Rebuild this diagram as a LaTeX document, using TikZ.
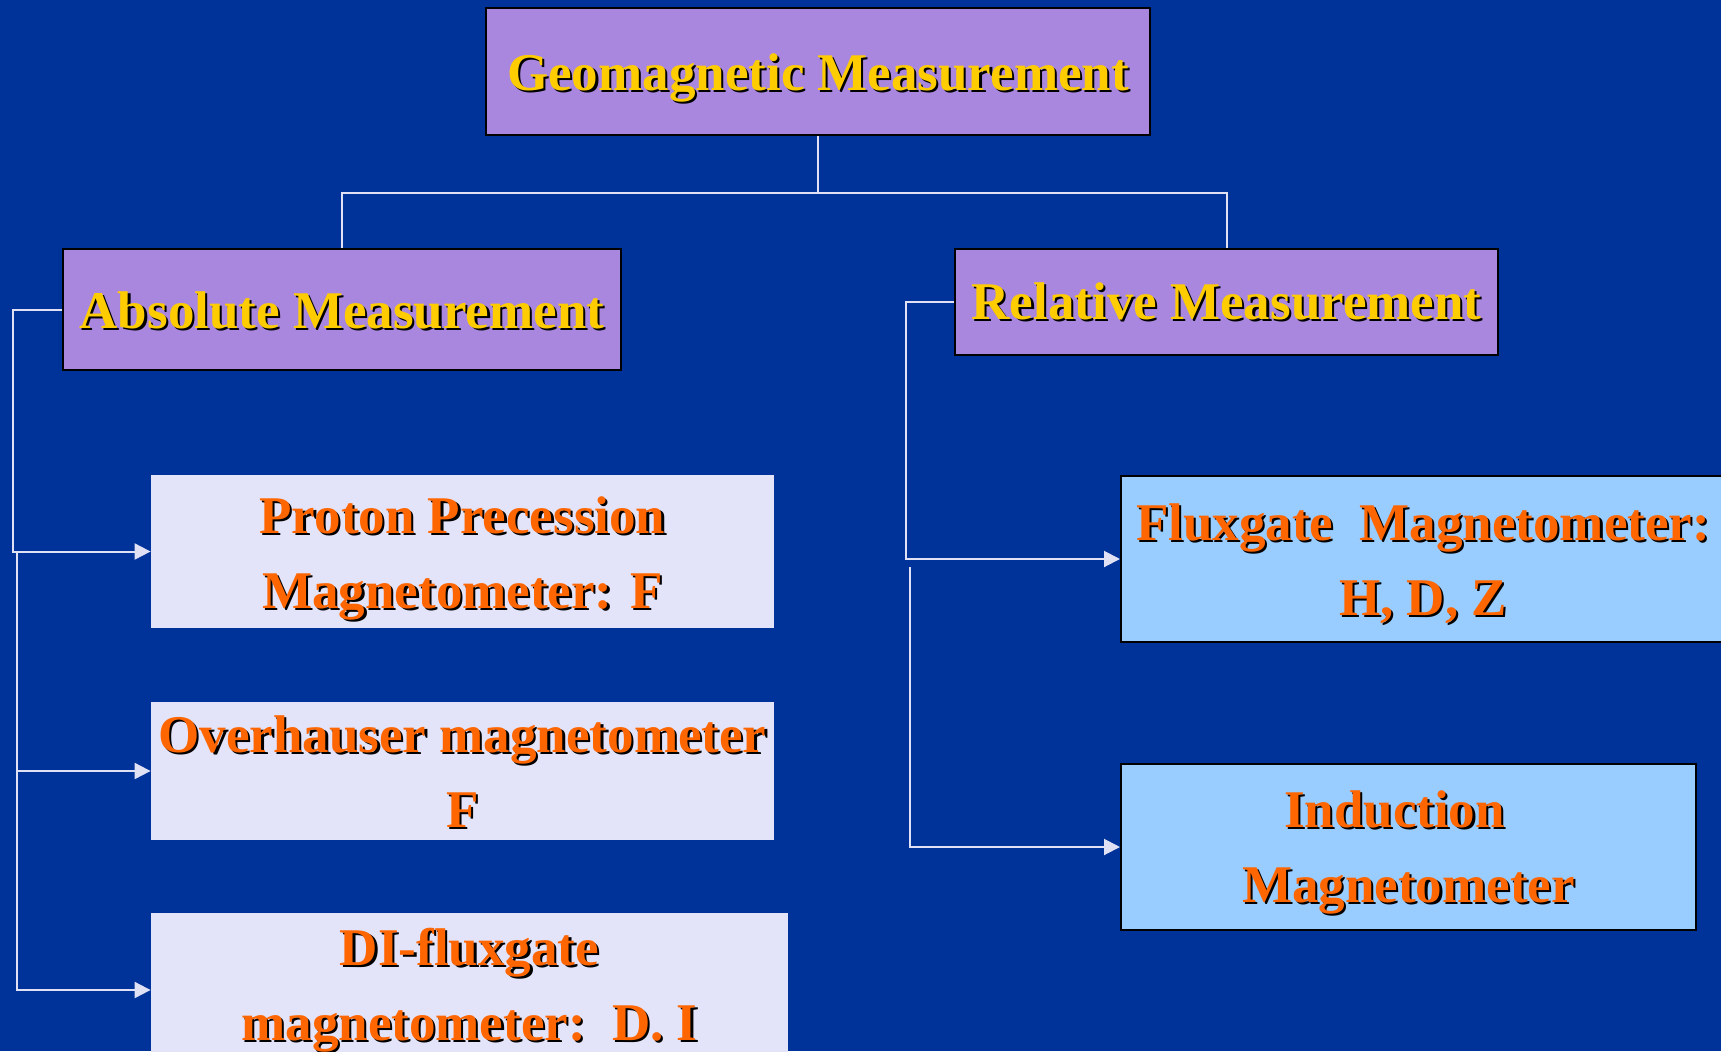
\documentclass[tikz,border=0pt]{standalone}
\usepackage{fontspec}
\setmainfont{Liberation Serif}
\usetikzlibrary{arrows.meta}
\definecolor{bgblue}{HTML}{003399}
\definecolor{purp}{RGB}{169,135,223}
\definecolor{lav}{RGB}{227,227,250}
\definecolor{sky}{HTML}{99CCFF}
\definecolor{gold}{HTML}{FFCC00}
\definecolor{orng}{HTML}{FF6600}
\definecolor{wire}{RGB}{225,225,245}
\newcommand\sh[2][9.25pt]{\raisebox{-#1}[0pt][0pt]{\rlap{\kern1.1pt\raisebox{-1.1pt}{\textcolor{black}{#2}}}#2}}
\begin{document}
\begin{tikzpicture}[x=0.5pt,y=-0.5pt,
 txt/.style={font=\fontsize{26.5pt}{37.5pt}\selectfont\bfseries, align=center, inner sep=0pt},
 headbox/.style={txt, rectangle, fill=purp, draw=black, line width=1pt, text=gold},
 absbox/.style={txt, rectangle, fill=lav, draw=none, text=orng},
 relbox/.style={txt, rectangle, fill=sky, draw=black, line width=1pt, text=orng},
 conn/.style={draw=wire, line width=1pt},
 arr/.style={conn, -{Triangle[length=8pt,width=8pt]}}]
\useasboundingbox (0,0) rectangle (1721,1051);
\fill[bgblue] (0,0) rectangle (1721,1051);
\begin{scope}
\clip (0,0) rectangle (1721,1051);
\node[headbox, minimum width=332pt, minimum height=63.5pt] (top) at (818,71.5) {\sh{Geomagnetic Measurement}};
\node[headbox, minimum width=279pt, minimum height=60.5pt] (abs) at (342,309.5) {\sh{Absolute Measurement}};
\node[headbox, minimum width=271.5pt, minimum height=53pt] (rel) at (1226.5,302) {\sh[8.5pt]{Relative Measurement}};
\node[absbox, minimum width=311.5pt, minimum height=76.5pt] (proton) at (462.5,551.5) {\sh[9.5pt]{Proton Precession}\\ \sh[9.5pt]{Magnetometer: F}};
\node[absbox, minimum width=311.5pt, minimum height=69pt] (over) at (462.5,771) {\sh[9.5pt]{Overhauser magnetometer}\\ \sh[9.5pt]{F}};
\node[absbox, minimum width=318.5pt, minimum height=77pt] (di) at (469.5,990) {\sh[6.5pt]{DI-fluxgate}\\ \sh[6.5pt]{magnetometer:\ \ D. I}};
\node[relbox, minimum width=302pt, minimum height=83pt] (flux) at (1423,559) {\sh{Fluxgate\ \ Magnetometer:}\\ \sh{H, D, Z}};
\node[relbox, minimum width=287.5pt, minimum height=83pt] (ind) at (1408.5,847) {\sh[9pt]{Induction}\hspace*{14pt}\\ \sh[9pt]{Magnetometer}};
\end{scope}
\draw[conn] (top.south) -- ++(0,57) -| (abs.north);
\draw[conn] (top.south) -- ++(0,57) -| (rel.north);
\draw[arr] (abs.west) -- ++(-49,0) |- (proton.west);
\coordinate (aj) at (17,551);
\draw[arr] (aj) |- (over.west);
\draw[arr] (aj) |- (di.west);
\draw[arr] (rel.west) -- ++(-48,0) |- (flux.west);
\coordinate (rj) at (910,567);
\draw[arr] (rj) |- (ind.west);
\end{tikzpicture}
\end{document}
